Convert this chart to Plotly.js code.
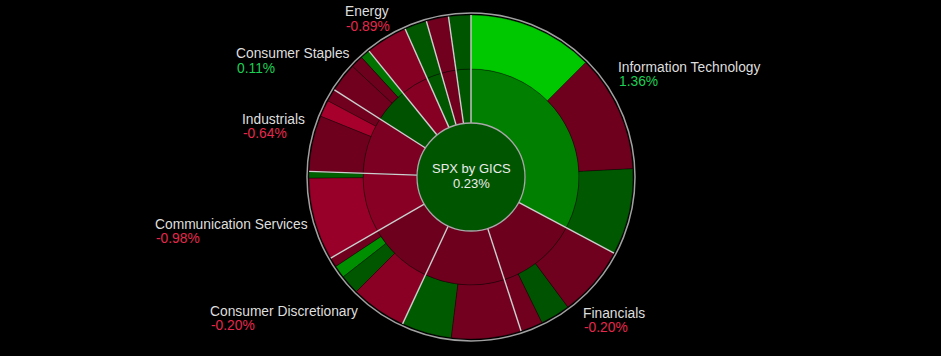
<!DOCTYPE html>
<html>
<head>
<meta charset="utf-8">
<script src="https://cdn.plot.ly/plotly-3.0.1.min.js"></script>
<style>
html,body{margin:0;padding:0;background:#000;}
#chart{width:941px;height:356px;}
</style>
</head>
<body>
<div id="chart"></div>
<script>
// ---------------- data ----------------
const rootLabel = 'SPX by GICS';
const rootChg = 0.23;

const sectors = ['Information Technology','Financials','Health Care','Consumer Discretionary',
  'Communication Services','Industrials','Consumer Staples','Energy','Materials','Utilities','Real Estate'];
const sectorChg = [1.36, -0.20, -0.25, -0.20, -0.98, -0.64, 0.11, -0.89, 0.25, -0.35, 0.20];

const leafSector = ['Information Technology','Information Technology','Information Technology',
  'Financials','Financials','Financials',
  'Health Care','Health Care',
  'Consumer Discretionary','Consumer Discretionary','Consumer Discretionary','Consumer Discretionary',
  'Communication Services','Communication Services',
  'Industrials','Industrials','Industrials',
  'Consumer Staples','Consumer Staples','Consumer Staples',
  'Energy','Materials','Utilities','Real Estate'];
const leafNames = ['Semiconductors & Semiconductor Equipment','Software & Services','Technology Hardware & Equipment',
  'Financial Services','Banks','Insurance',
  'Pharmaceuticals & Biotechnology','Health Care Equipment & Services',
  'Consumer Discretionary Distribution & Retail','Consumer Services','Automobiles & Components','Consumer Durables & Apparel',
  'Media & Entertainment','Telecommunication Services',
  'Capital Goods','Transportation','Commercial & Professional Services',
  'Consumer Staples Distribution & Retail','Food, Beverage & Tobacco','Household & Personal Products',
  'Energy','Materials','Utilities','Real Estate'];
const leafWeights = [12.50, 11.67, 8.61,
  7.03, 2.97, 2.22,
  6.94, 5.00,
  5.56, 1.94, 1.25, 0.97,
  8.22, 0.67,
  5.56, 1.67, 1.25,
  2.92, 1.25, 0.97,
  4.17, 2.22, 2.22, 2.22];
const leafChg = [3.40, -0.25, 0.30,
  -0.30, 0.15, -0.35,
  -0.40, 0.35,
  -1.00, 0.25, 1.80, -0.30,
  -1.40, 0.50,
  -0.25, -1.80, -0.35,
  -0.35, -0.20, 1.00,
  -0.90, 0.25, -0.35, 0.20];

// sectors with a text label around the ring
const labelled = ['Information Technology','Financials','Consumer Discretionary','Communication Services',
  'Industrials','Consumer Staples','Energy'];

// ---------------- style / layout ----------------
const W = 941, H = 356;
const M = {l:0, r:0, t:15, b:17};
const CX = 471;                       // centre x in px
const PH = H - M.t - M.b;             // plot height
const R = PH / 2;                     // sunburst outer radius
const PLOTLY_CCW = true;              // sunburst lays slices out counter-clockwise

function chgColor(c){
  if (c >= 0){
    const g = Math.min(200, 78 + 36*c);
    return 'rgb(0,' + Math.round(g) + ',0)';
  }
  const r = Math.min(175, 100 + 38*(-c));
  return 'rgb(' + Math.round(r) + ',0,' + Math.round(r*0.27) + ')';
}
const pctColor = c => c >= 0 ? '#1ccf55' : '#e5284c';
const fmtPct = c => c.toFixed(2) + '%';

// ---------------- build hierarchy ----------------
const sectorW = sectors.map(s => leafWeights.reduce((a,w,i)=> a + (leafSector[i]===s ? w : 0), 0));
const total = sectorW.reduce((a,b)=>a+b,0);

let ids=[], labels=[], parents=[], values=[], colors=[], lineC=[], lineW=[];
ids.push('root'); labels.push(rootLabel); parents.push(''); values.push(total);
colors.push(chgColor(rootChg)); lineC.push('rgba(0,0,0,0)'); lineW.push(0);

let order = sectors.map((s,i)=>i);
if (PLOTLY_CCW) order = order.slice().reverse();
order.forEach(i=>{
  const s = sectors[i];
  ids.push(s); labels.push(s); parents.push('root'); values.push(sectorW[i]);
  colors.push(chgColor(sectorChg[i])); lineC.push('rgba(0,0,0,0.4)'); lineW.push(0.8);
});
let lorder = leafNames.map((n,i)=>i);
if (PLOTLY_CCW) lorder = lorder.slice().reverse();
lorder.forEach(i=>{
  ids.push(leafSector[i] + '/' + leafNames[i]); labels.push(leafNames[i]);
  parents.push(leafSector[i]); values.push(leafWeights[i]);
  colors.push(chgColor(leafChg[i])); lineC.push('rgba(0,0,0,0.4)'); lineW.push(0.8);
});

const trace = {
  type:'sunburst', ids, labels, parents, values,
  branchvalues:'total', sort:false, rotation:90,
  textinfo:'none', hoverinfo:'label+value',
  leaf:{opacity:1},
  marker:{colors, line:{color:lineC, width:lineW}},
  domain:{x:[CX/W - 0.25, CX/W + 0.25], y:[0,1]}
};

// separators between sectors (clockwise from 12 o'clock)
const shapes = [];
let cum = 0;
const r0 = R/3;
sectorW.forEach(w=>{
  const a = (90 - 360*cum/total) * Math.PI/180;
  shapes.push({type:'line', xref:'paper', yref:'paper', xsizemode:'pixel', ysizemode:'pixel',
    xanchor: CX/W, yanchor: 0.5,
    x0: r0*Math.cos(a), y0: r0*Math.sin(a), x1: R*Math.cos(a), y1: R*Math.sin(a),
    line:{color:'#cfcfcf', width:1.4}});
  cum += w;
});
// centre circle and outer rim
[[r0, '#a9a9a9', 1.3], [R+2, '#a0a0a0', 1.5]].forEach(([rr,c,lw])=>{
  shapes.push({type:'circle', xref:'paper', yref:'paper', xsizemode:'pixel', ysizemode:'pixel',
    xanchor: CX/W, yanchor: 0.5, x0:-rr, x1:rr, y0:-rr, y1:rr, line:{color:c, width:lw}});
});

// label placement (px: left x, name mid y)
const labelPos = {
  'Information Technology':[617, 67],
  'Financials':[582, 313],
  'Consumer Discretionary':[209, 311],
  'Communication Services':[154, 224],
  'Industrials':[241, 119],
  'Consumer Staples':[235, 54],
  'Energy':[344, 12]
};
const px2x = px => (px - M.l) / (W - M.l - M.r);
const py2y = py => (H - M.b - py) / PH;
const annotations = [];
const FONT = 'Liberation Sans, Arial, sans-serif';
labelled.forEach(s=>{
  const i = sectors.indexOf(s);
  const [lx, ly] = labelPos[s];
  annotations.push({xref:'paper', yref:'paper', x:px2x(lx), y:py2y(ly), xanchor:'left', yanchor:'middle',
    text:s, showarrow:false, borderpad:0, font:{family:FONT, size:13.8, color:'#dedede'}});
  annotations.push({xref:'paper', yref:'paper', x:px2x(lx+1), y:py2y(ly+14.5), xanchor:'left', yanchor:'middle',
    text:fmtPct(sectorChg[i]), showarrow:false, borderpad:0, font:{family:FONT, size:13.8, color:pctColor(sectorChg[i])}});
});
annotations.push({xref:'paper', yref:'paper', x:px2x(CX), y:py2y(168), xanchor:'center', yanchor:'middle',
  text:rootLabel, showarrow:false, borderpad:0, font:{family:FONT, size:13, color:'#ececec'}});
annotations.push({xref:'paper', yref:'paper', x:px2x(CX), y:py2y(183.5), xanchor:'center', yanchor:'middle',
  text:fmtPct(rootChg), showarrow:false, borderpad:0, font:{family:FONT, size:13, color:'#ececec'}});

const layout = {
  width:W, height:H, margin:M, paper_bgcolor:'#000', plot_bgcolor:'#000',
  showlegend:false, shapes, annotations
};
Plotly.newPlot('chart', [trace], layout, {displayModeBar:false, staticPlot:true});
</script>
</body>
</html>
